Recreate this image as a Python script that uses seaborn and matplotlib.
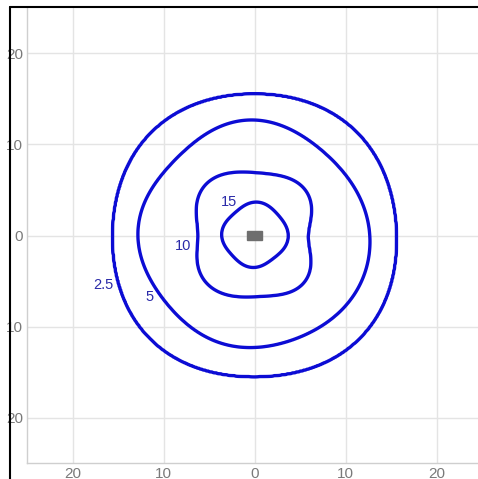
import numpy as np
import matplotlib
matplotlib.use('Agg')
import matplotlib.pyplot as plt
from matplotlib.lines import Line2D
from matplotlib.patches import Rectangle
import seaborn as sns

# contour levels and the radius of each contour
# (angle in degrees, distance from the centre in axis units)
levels = [2.5, 5, 10, 15]
level_labels = ['2.5', '5', '10', '15']

angles_25 = [0, 22, 38, 51, 70, 90, 110, 128, 142, 156, 177, 191, 205, 219, 232, 248, 270, 288, 308, 329, 343]
radii_25 = [15.6, 15.7, 16.0, 15.9, 15.7, 15.6, 15.7, 16.0, 16.0, 15.8, 15.6, 15.7, 15.9, 16.1, 16.1, 15.8, 15.5, 15.7, 16.1, 16.1, 15.8]

angles_5 = [0, 18, 30, 47, 60, 76, 90, 101, 117, 134, 152, 175, 194, 209, 215, 232, 247, 270, 285, 303, 325, 342]
radii_5 = [12.6, 12.5, 11.9, 12.0, 12.0, 12.4, 12.7, 12.7, 12.3, 12.0, 12.4, 12.7, 12.7, 12.3, 12.2, 12.2, 12.4, 12.3, 12.2, 12.3, 12.7, 12.8]

angles_10 = [0, 11, 20, 33, 49, 65, 83, 94, 103, 114, 128, 139, 149, 163, 176, 194, 202, 214, 229, 245, 262, 281, 305, 320, 334, 348]
radii_10 = [6.0, 6.1, 6.6, 7.4, 7.4, 7.2, 7.0, 6.8, 7.2, 7.5, 7.7, 7.7, 7.4, 6.5, 6.4, 6.4, 6.8, 7.3, 7.4, 7.2, 6.8, 6.8, 7.4, 7.45, 6.9, 6.1]

angles_15 = [0, 16, 40, 68, 90, 109, 136, 160, 172, 187, 224, 270, 316]
radii_15 = [3.7, 3.6, 3.5, 3.5, 3.8, 3.4, 3.3, 3.5, 3.7, 3.5, 3.3, 3.5, 3.3]

# where the level numbers sit
label_x = [-16.6, -11.5, -7.9, -2.8]
label_y = [-5.4, -6.8, -1.2, 3.7]

# the grey block in the middle
source_x = 0
source_y = 0

tick_values = [-20, -10, 0, 10, 20]
tick_labels = ['20', '10', '0', '10', '20']

sns.set_theme(style='white')
plt.rcParams['font.family'] = ['Liberation Sans', 'DejaVu Sans']


def smooth_radius(angles, radii, n, theta):
    # low order fourier fit through the read radii so the rings stay smooth
    a = np.radians(angles)
    cols = [np.ones_like(a)]
    for k in range(1, n + 1):
        cols += [np.cos(k * a), np.sin(k * a)]
    coef = np.linalg.lstsq(np.column_stack(cols), np.array(radii), rcond=None)[0]
    t = np.radians(theta)
    out = coef[0] * np.ones_like(t)
    for k in range(1, n + 1):
        out += coef[2 * k - 1] * np.cos(k * t) + coef[2 * k] * np.sin(k * t)
    return out


# build a field whose level sets pass through the read radii
gx = np.linspace(-25, 25, 501)
X, Y = np.meshgrid(gx, gx)
theta = np.degrees(np.arctan2(Y, X)) % 360
r = np.hypot(X, Y)
R15 = smooth_radius(angles_15, radii_15, 4, theta)
R10 = smooth_radius(angles_10, radii_10, 6, theta)
R5 = smooth_radius(angles_5, radii_5, 5, theta)
R25 = smooth_radius(angles_25, radii_25, 4, theta)
bounds = [np.zeros_like(r), R15, R10, R5, R25, R25 + 25]
vals = [20, 15, 10, 5, 2.5, 0]
F = np.zeros_like(r)
for i in range(5):
    lo, hi = bounds[i], bounds[i + 1]
    m = (r >= lo) & (r < hi)
    t = (r - lo) / (hi - lo)
    F = np.where(m, vals[i] + t * (vals[i + 1] - vals[i]), F)

fig = plt.figure(figsize=(4.78, 4.79), dpi=100)
ax = fig.add_axes([0.0565, 0.0334, 0.9519, 0.9499])

ax.contour(X, Y, F, levels=levels, colors='#0c0cd4', linewidths=2.4)

for lab, lx, ly in zip(level_labels, label_x, label_y):
    ax.text(lx, ly, lab, color='#2a2aa8', fontsize=10.5, ha='center', va='center')

ax.add_patch(Rectangle((source_x - 0.8, source_y - 0.5), 1.6, 1.0, color='#6e6e6e', zorder=3))

ax.set_xlim(-25, 25)
ax.set_ylim(-25, 25)
ax.set_xticks(tick_values)
ax.set_xticklabels(tick_labels)
ax.set_yticks(tick_values)
ax.set_yticklabels(tick_labels)
ax.tick_params(length=0, pad=3, labelsize=11, labelcolor='#7a7a7a')
ax.grid(True, color='#e4e4e4', linewidth=1)
ax.set_axisbelow(True)
for side in ['top', 'right']:
    ax.spines[side].set_visible(False)
for side in ['left', 'bottom']:
    ax.spines[side].set_color('#cfcfcf')
    ax.spines[side].set_linewidth(1)

# black frame of the screenshot
fig.add_artist(Line2D([0.021, 0.021], [0, 0.9854], color='black', linewidth=1.5))
fig.add_artist(Line2D([0.021, 1], [0.9854, 0.9854], color='black', linewidth=1.5))

fig.savefig('out.png', dpi=100)
